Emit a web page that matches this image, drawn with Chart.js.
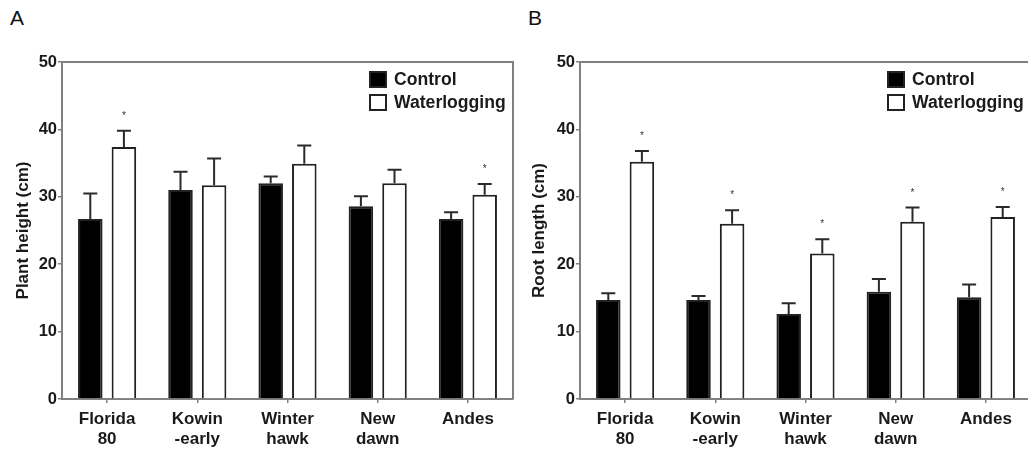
<!DOCTYPE html>
<html>
<head>
<meta charset="utf-8">
<script src="https://cdn.jsdelivr.net/npm/chart.js@4.4.1/dist/chart.umd.min.js"></script>
<style>
  html, body { margin: 0; padding: 0; background: #fff; width: 1028px; height: 451px; overflow: hidden; }
  .wrap { position: absolute; top: 0; height: 451px; }
  #wa { left: 0; width: 520px; }
  #wb { left: 510px; width: 530px; }
  .letter { position: absolute; top: 7px; font-family: 'Liberation Sans', Arial, sans-serif; font-size: 21px; line-height: 1; color: #111; }
</style>
</head>
<body>
<div class="letter" style="left:10px">A</div>
<div class="letter" style="left:528px">B</div>
<div class="wrap" id="wa"><canvas id="ca" width="520" height="451"></canvas></div>
<div class="wrap" id="wb"><canvas id="cb" width="530" height="451"></canvas></div>
<script>
// ---- data ----
const categories = [['Florida', '80'], ['Kowin', '-early'], ['Winter', 'hawk'], ['New', 'dawn'], ['Andes']];
const seriesNames = ['Control', 'Waterlogging'];
const yTicks = [0, 10, 20, 30, 40, 50];

// Panel A: plant height (cm)
const heightControl = [26.7, 31.0, 32.0, 28.6, 26.7];
const heightControlSE = [3.8, 2.7, 1.0, 1.5, 1.0];
const heightWater = [37.4, 31.7, 34.9, 32.0, 30.3];
const heightWaterSE = [2.4, 4.0, 2.7, 2.0, 1.6];
const heightControlSig = [false, false, false, false, false];
const heightWaterSig = [true, false, false, false, true];

// Panel B: root length (cm)
const rootControl = [14.7, 14.7, 12.6, 15.9, 15.1];
const rootControlSE = [1.0, 0.6, 1.6, 1.9, 1.9];
const rootWater = [35.2, 26.0, 21.6, 26.3, 27.0];
const rootWaterSE = [1.6, 2.0, 2.1, 2.1, 1.5];
const rootControlSig = [false, false, false, false, false];
const rootWaterSig = [true, true, true, true, true];

const FONT = "'Liberation Sans', Arial, sans-serif";
const AXIS = '#808080';
const INK = '#1a1a1a';

const errorPlugin = {
  id: 'errorBars',
  afterDatasetsDraw(chart) {
    const ctx = chart.ctx;
    const ys = chart.scales.y;
    chart.data.datasets.forEach((ds, i) => {
      const meta = chart.getDatasetMeta(i);
      meta.data.forEach((el, j) => {
        const top = ys.getPixelForValue(ds.data[j] + ds.se[j]);
        ctx.save();
        ctx.strokeStyle = '#2a2a2a';
        ctx.lineWidth = 2;
        ctx.beginPath();
        ctx.moveTo(el.x, el.y);
        ctx.lineTo(el.x, top);
        ctx.moveTo(el.x - 7, top);
        ctx.lineTo(el.x + 7, top);
        ctx.stroke();
        if (ds.sig[j]) {
          ctx.fillStyle = '#333';
          ctx.font = '10px ' + FONT;
          ctx.textAlign = 'center';
          ctx.textBaseline = 'alphabetic';
          ctx.fillText('*', el.x, top - 12);
        }
        ctx.restore();
      });
    });
  }
};

const framePlugin = {
  id: 'frameLegend',
  afterDraw(chart) {
    const ctx = chart.ctx;
    const a = chart.chartArea;
    ctx.save();
    ctx.strokeStyle = AXIS;
    ctx.lineWidth = 2;
    ctx.beginPath();
    ctx.moveTo(a.left, a.top);
    ctx.lineTo(a.right, a.top);
    ctx.lineTo(a.right, a.bottom);
    ctx.stroke();
    // legend
    const bx = a.right - 144;
    chart.data.datasets.forEach((ds, i) => {
      const by = a.top + 9 + i * 23;
      ctx.fillStyle = ds.backgroundColor;
      ctx.fillRect(bx, by, 18, 17);
      ctx.strokeStyle = '#222';
      ctx.lineWidth = 2;
      ctx.strokeRect(bx + 1, by + 1, 16, 15);
      ctx.fillStyle = INK;
      ctx.font = 'bold 17.6px ' + FONT;
      ctx.textAlign = 'left';
      ctx.textBaseline = 'alphabetic';
      ctx.fillText(ds.label, bx + 25, by + 14);
    });
    ctx.restore();
  }
};

function makeChart(id, title, c, cse, csig, w, wse, wsig, yWidth, titlePad, padRight) {
  return new Chart(document.getElementById(id), {
    type: 'bar',
    data: {
      labels: categories,
      datasets: [
        { label: seriesNames[0], data: c, se: cse, sig: csig, backgroundColor: '#000000', borderColor: '#222', borderWidth: 2 },
        { label: seriesNames[1], data: w, se: wse, sig: wsig, backgroundColor: '#ffffff', borderColor: '#222', borderWidth: 2 }
      ]
    },
    options: {
      responsive: false,
      animation: false,
      devicePixelRatio: 1,
      layout: { padding: { left: 0, right: padRight, top: 62, bottom: 0 } },
      datasets: { bar: { categoryPercentage: 0.745, barPercentage: 0.73 } },
      plugins: { legend: { display: false }, tooltip: { enabled: false } },
      scales: {
        x: {
          grid: { display: true, offset: false, drawOnChartArea: false, drawTicks: true, tickLength: 4, color: AXIS, lineWidth: 1.5 },
          border: { display: true, color: AXIS, width: 2 },
          ticks: { color: INK, font: { family: FONT, size: 17, weight: 'bold', lineHeight: 1.18 }, padding: 6, maxRotation: 0, autoSkip: false },
          afterFit: s => { s.height = 52; }
        },
        y: {
          min: 0, max: 50,
          afterBuildTicks: s => { s.ticks = yTicks.map(v => ({ value: v })); },
          grid: { display: true, drawOnChartArea: false, drawTicks: true, tickLength: 4, color: AXIS, lineWidth: 1.5 },
          border: { display: true, color: AXIS, width: 2 },
          ticks: { color: INK, font: { family: FONT, size: 16.5, weight: 'bold' }, padding: 1 },
          title: { display: true, text: title, color: INK, font: { family: FONT, size: 17, weight: 'bold' }, padding: { top: titlePad - 1, bottom: 0 } },
          afterFit: s => { s.width = yWidth; }
        }
      }
    },
    plugins: [errorPlugin, framePlugin]
  });
}

makeChart('ca', 'Plant height (cm)', heightControl, heightControlSE, heightControlSig, heightWater, heightWaterSE, heightWaterSig, 62, 14, 7);
makeChart('cb', 'Root length (cm)', rootControl, rootControlSE, rootControlSig, rootWater, rootWaterSE, rootWaterSig, 70, 20, 9);
</script>
</body>
</html>
